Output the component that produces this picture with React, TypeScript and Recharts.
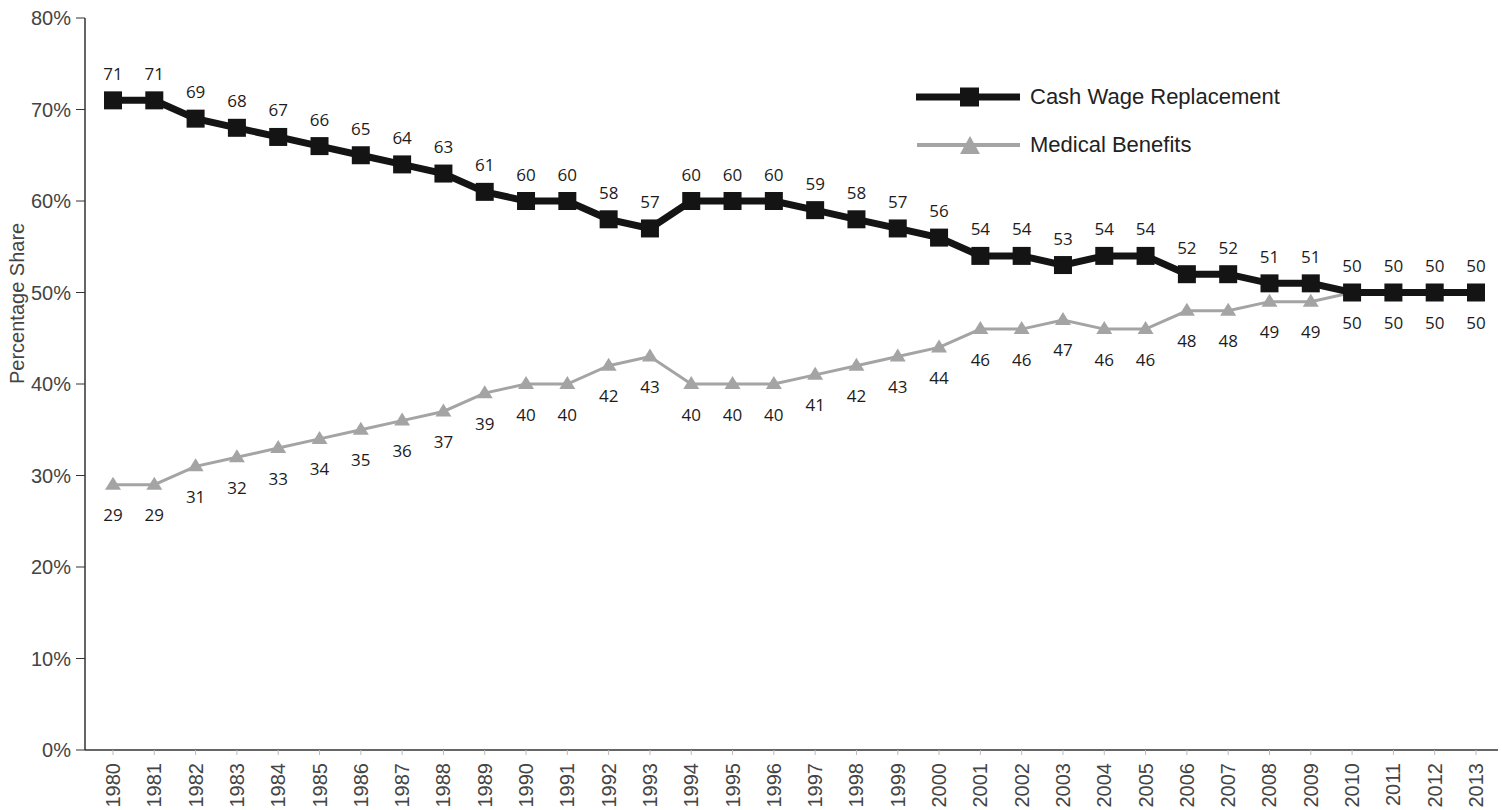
import React from 'react'
import { LabelList, Legend, Line, LineChart, XAxis, YAxis } from 'recharts'

const YEARS = [
  '1980', '1981', '1982', '1983', '1984', '1985', '1986', '1987', '1988', '1989',
  '1990', '1991', '1992', '1993', '1994', '1995', '1996', '1997', '1998', '1999',
  '2000', '2001', '2002', '2003', '2004', '2005', '2006', '2007', '2008', '2009',
  '2010', '2011', '2012', '2013',
]

const CASH_WAGE = [
  71, 71, 69, 68, 67, 66, 65, 64, 63, 61,
  60, 60, 58, 57, 60, 60, 60, 59, 58, 57,
  56, 54, 54, 53, 54, 54, 52, 52, 51, 51,
  50, 50, 50, 50,
]

const MEDICAL = [
  29, 29, 31, 32, 33, 34, 35, 36, 37, 39,
  40, 40, 42, 43, 40, 40, 40, 41, 42, 43,
  44, 46, 46, 47, 46, 46, 48, 48, 49, 49,
  50, 50, 50, 50,
]

const Y_TICKS = [0, 10, 20, 30, 40, 50, 60, 70, 80]

const CASH_COLOR = '#141414'
const MED_COLOR = '#a4a4a4'
const AXIS_FONT = '"Liberation Sans Narrow", "Liberation Sans", Arial, sans-serif'
const LABEL_FONT = '"Open Sans", "Noto Sans", sans-serif'

const data = YEARS.map((year, i) => ({ year, cash: CASH_WAGE[i], medical: MEDICAL[i] }))

function SquareDot(props: any) {
  const { cx, cy, index } = props
  if (cx == null || cy == null) return <g key={index} />
  return <rect key={index} x={cx - 9} y={cy - 9} width={18} height={18} fill={CASH_COLOR} />
}

function TriangleDot(props: any) {
  const { cx, cy, index } = props
  if (cx == null || cy == null) return <g key={index} />
  return (
    <path
      key={index}
      d={`M${cx},${cy - 8} L${cx + 8},${cy + 5} L${cx - 8},${cy + 5} Z`}
      fill={MED_COLOR}
    />
  )
}

function valueLabel(offset: number) {
  return (props: any) => {
    const { x, y, value } = props
    return (
      <text
        x={x}
        y={y + offset}
        textAnchor="middle"
        dominantBaseline="central"
        fill="#1c1c1c"
        fontSize={17}
        fontFamily={LABEL_FONT}
      >
        {value}
      </text>
    )
  }
}

function YearTick(props: any) {
  const { x, y, payload } = props
  return (
    <text
      x={x}
      y={y}
      transform={`rotate(-90, ${x}, ${y})`}
      textAnchor="end"
      dominantBaseline="central"
      fill="#444"
      fontSize={20}
      fontFamily={AXIS_FONT}
    >
      {payload.value}
    </text>
  )
}

function ChartLegend() {
  return (
    <div style={{ fontFamily: '"Liberation Sans", Arial, sans-serif', fontSize: 22, color: '#222' }}>
      <div style={{ display: 'flex', alignItems: 'center', height: 30 }}>
        <svg width={114} height={30}>
          <line x1={0} y1={15} x2={104} y2={15} stroke={CASH_COLOR} strokeWidth={7} />
          <rect x={44} y={5.5} width={19} height={19} fill={CASH_COLOR} />
        </svg>
        <span>Cash Wage Replacement</span>
      </div>
      <div style={{ display: 'flex', alignItems: 'center', height: 30, marginTop: 18 }}>
        <svg width={114} height={30}>
          <line x1={1} y1={15} x2={104} y2={15} stroke={MED_COLOR} strokeWidth={4} />
          <path d="M54,6 L64,24 L44,24 Z" fill={MED_COLOR} />
        </svg>
        <span>Medical Benefits</span>
      </div>
    </div>
  )
}

export default function App() {
  return (
    <div style={{ position: 'absolute', left: 0, top: 0, width: 1502, height: 810, background: '#fff' }}>
      <LineChart width={1502} height={810} data={data} margin={{ top: 18, right: 4, bottom: 0, left: 0 }}>
        <XAxis
          dataKey="year"
          height={60}
          interval={0}
          padding={{ left: 28, right: 22 }}
          axisLine={{ stroke: '#333', strokeWidth: 1.5 }}
          tickLine={{ stroke: '#bbb' }}
          tickSize={5}
          tickMargin={8}
          tick={<YearTick />}
        />
        <YAxis
          yAxisId="left"
          width={85}
          domain={[0, 80]}
          ticks={Y_TICKS}
          interval={0}
          tickFormatter={(v: number) => `${v}%`}
          axisLine={{ stroke: '#333', strokeWidth: 1.5 }}
          tickLine={{ stroke: '#333' }}
          tickSize={9}
          tickMargin={5}
          tick={{ fill: '#444', fontSize: 20, fontFamily: AXIS_FONT }}
          label={{
            value: 'Percentage Share',
            angle: -90,
            position: 'insideLeft',
            dx: 12,
            fill: '#444',
            fontSize: 20,
            fontFamily: '"Liberation Sans", Arial, sans-serif',
          }}
        />
        <YAxis
          yAxisId="right"
          orientation="right"
          width={0}
          domain={[0, 80]}
          tick={false}
          tickLine={false}
          axisLine={{ stroke: '#222', strokeWidth: 2 }}
        />
        <Legend
          layout="horizontal"
          verticalAlign="middle"
          align="center"
          content={<ChartLegend />}
          wrapperStyle={{ left: 916, top: 82, width: 420 }}
        />
        <Line
          yAxisId="left"
          dataKey="medical"
          name="Medical Benefits"
          stroke={MED_COLOR}
          strokeWidth={3}
          dot={TriangleDot}
          activeDot={false}
          isAnimationActive={false}
        >
          <LabelList dataKey="medical" content={valueLabel(30)} />
        </Line>
        <Line
          yAxisId="left"
          dataKey="cash"
          name="Cash Wage Replacement"
          stroke={CASH_COLOR}
          strokeWidth={7}
          dot={SquareDot}
          activeDot={false}
          isAnimationActive={false}
        >
          <LabelList dataKey="cash" content={valueLabel(-27)} />
        </Line>
      </LineChart>
    </div>
  )
}
